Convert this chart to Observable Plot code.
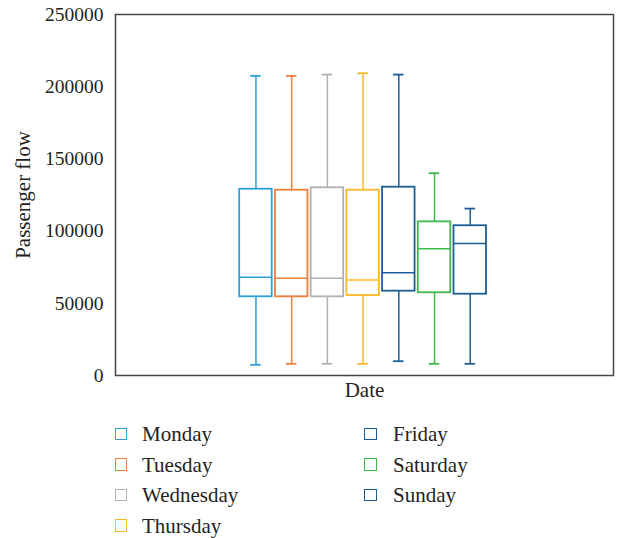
<!DOCTYPE html>
<html>
<head>
<meta charset="utf-8">
<script src="https://cdn.jsdelivr.net/npm/d3@7"></script>
<script src="https://cdn.jsdelivr.net/npm/@observablehq/plot@0.6"></script>
<style>
  html, body { margin: 0; padding: 0; background: #fff; }
  #wrap { position: relative; width: 618px; height: 538px; font-family: "Liberation Serif", "DejaVu Serif", serif; color: #231f20; }
  .leg { position: absolute; font-size: 21px; line-height: 1; white-space: nowrap; }
  .sw { position: absolute; width: 10.5px; height: 10.5px; border: 1.5px solid; box-sizing: content-box; }
</style>
</head>
<body>
<div id="wrap"></div>
<script>
const days = ["Monday", "Tuesday", "Wednesday", "Thursday", "Friday", "Saturday", "Sunday"];
const colors = ["#2a9fd8", "#f07f3c", "#b0b0b0", "#fbb829", "#1a5f98", "#3fb94a", "#1d5d91"];
const whiskerLow = [7400, 8100, 8100, 8100, 9900, 8100, 8100];
const q1 = [54500, 54500, 54500, 55400, 58400, 57300, 56300];
const median = [68000, 67400, 67400, 66200, 71100, 87700, 91400];
const q3 = [129000, 128300, 130000, 128300, 130400, 106400, 103700];
const whiskerHigh = [207500, 207500, 208400, 209300, 208400, 140100, 115600];
const yTicks = [0, 50000, 100000, 150000, 200000, 250000];

const data = days.map((d, i) => ({
  day: d, lo: whiskerLow[i], q1: q1[i], med: median[i], q3: q3[i], hi: whiskerHigh[i]
}));

const chart = Plot.plot({
  width: 618,
  height: 410,
  marginTop: 14,
  marginBottom: 35,
  marginLeft: 115,
  marginRight: 5,
  style: { fontFamily: "Liberation Serif, DejaVu Serif, serif", fontSize: "19.5px", color: "#231f20", background: "white" },
  x: { type: "band", domain: days, range: [237.6, 487.6], paddingInner: 0.09, paddingOuter: 0.045, round: false, axis: null },
  y: { domain: [0, 250000], ticks: yTicks, label: null },
  color: { domain: days, range: colors },
  marks: [
    Plot.axisY(yTicks, { tickSize: 0, tickPadding: 12, tickFormat: d => String(d), label: null }),
    Plot.ruleX(data, { x: "day", y1: "lo", y2: "q1", stroke: "day", strokeWidth: 1.5 }),
    Plot.ruleX(data, { x: "day", y1: "q3", y2: "hi", stroke: "day", strokeWidth: 1.5 }),
    Plot.barY(data, { x: "day", y1: "q1", y2: "q3", fill: "white", stroke: "day", strokeWidth: 1.8 }),
    Plot.tickY(data, { x: "day", y: "med", stroke: "day", strokeWidth: 1.5 }),
    Plot.tickY(data, { x: "day", y: "lo", stroke: "day", strokeWidth: 1.8, insetLeft: 11, insetRight: 11 }),
    Plot.tickY(data, { x: "day", y: "hi", stroke: "day", strokeWidth: 1.8, insetLeft: 11, insetRight: 11 }),
    Plot.frame({ stroke: "#444", strokeWidth: 1.5 }),
    Plot.text(["Passenger flow"], { frameAnchor: "left", textAnchor: "middle", dx: -92, rotate: -90, fontSize: 21, fill: "#231f20" }),
    Plot.text(["Date"], { frameAnchor: "bottom", textAnchor: "middle", dy: 21, fontSize: 21, fill: "#231f20" })
  ]
});

const wrap = document.getElementById("wrap");
wrap.appendChild(chart);

// legend
const rowY = [434.5, 465, 495.5, 526];
days.forEach((d, i) => {
  const col = i < 4 ? 0 : 1;
  const row = i < 4 ? i : i - 4;
  const sx = col === 0 ? 114.5 : 364;
  const tx = col === 0 ? 142 : 393;
  const cy = rowY[row];
  const sw = document.createElement("div");
  sw.className = "sw";
  sw.style.left = sx + "px";
  sw.style.top = (cy - 6.75) + "px";
  sw.style.borderColor = colors[i];
  wrap.appendChild(sw);
  const t = document.createElement("div");
  t.className = "leg";
  t.textContent = d;
  t.style.left = tx + "px";
  t.style.top = (cy - 10.5) + "px";
  wrap.appendChild(t);
});
</script>
</body>
</html>
